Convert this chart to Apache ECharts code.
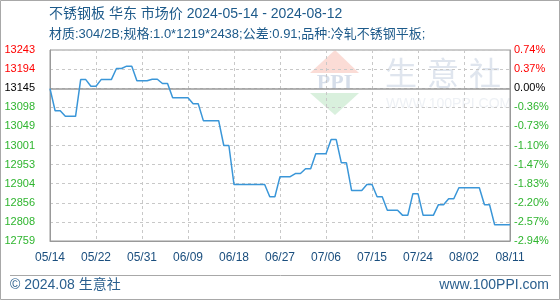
<!DOCTYPE html>
<html><head><meta charset="utf-8">
<script src="https://cdn.jsdelivr.net/npm/echarts@6/dist/echarts.min.js"></script>
<style>html,body{margin:0;padding:0;background:#fff}#c{width:560px;height:300px}</style>
</head><body><div id="c"></div>
<script>
const titleText = '不锈钢板 华东 市场价 2024-05-14 - 2024-08-12';
const subText = '材质:304/2B;规格:1.0*1219*2438;公差:0.91;品种:冷轧不锈钢平板;';
const footerLeft = '© 2024.08 生意社';
const footerRight = 'www.100PPI.com';
const startDate = '2024-05-14';
const prices = [
  13145, 13089, 13089, 13075, 13075, 13075, 13168, 13168, 13151, 13151,
  13168, 13168, 13168, 13196, 13196, 13202, 13202, 13165, 13165, 13165,
  13169, 13169, 13158, 13158, 13122, 13122, 13122, 13122, 13107, 13107,
  13064, 13064, 13064, 13064, 13001, 13001, 12902, 12902, 12902, 12902,
  12902, 12902, 12902, 12871, 12871, 12922, 12922, 12922, 12930, 12930,
  12942, 12942, 12980, 12980, 12980, 13016, 13016, 12957, 12957, 12887,
  12887, 12887, 12902, 12902, 12871, 12871, 12837, 12837, 12837, 12824,
  12824, 12879, 12879, 12824, 12824, 12824, 12851, 12851, 12866, 12866,
  12894, 12894, 12894, 12894, 12894, 12851, 12851, 12800, 12800, 12800,
  12800
];
const xTickLabels = ['05/14','05/22','05/31','06/09','06/18','06/27','07/06','07/15','07/24','08/02','08/11'];
// bottom to top
const yTickLabels = ['12759','12808','12856','12904','12953','13001','13049','13098','13145','13194','13243'];
const pctTickLabels = ['-2.94%','-2.57%','-2.20%','-1.83%','-1.47%','-1.10%','-0.73%','-0.36%','0.00%','0.37%','0.74%'];
const baseValue = 13145;
const yMin = 12759, yMax = 13243;
const watermarkChars = ['生','意','社'];

const dates = [];
(function(){
  const d0 = new Date(startDate + 'T00:00:00Z');
  for (let i = 0; i < prices.length; i++) {
    const d = new Date(d0.getTime() + i * 86400000);
    dates.push(d.toISOString().slice(0, 10));
  }
})();

const yInterval = (yMax - yMin) / 10;
const baseIdx = 8;
function tickIdx(v){ return Math.round((Number(v) - yMin) / yInterval); }
function tickColor(v){
  const i = tickIdx(v);
  if (i > baseIdx) return '#ff0000';
  if (i === baseIdx) return '#000000';
  return '#2fb52f';
}
const FONT = '"Liberation Sans", "Noto Sans CJK SC", sans-serif';

const graphics = [
  {type:'rect', z:-10, shape:{x:0.5,y:0.5,width:559,height:299}, style:{fill:'none', stroke:'#a8a8a8', lineWidth:1}},
  {type:'line', z:-10, shape:{x1:10,y1:275.5,x2:551,y2:275.5}, style:{stroke:'#a8a8a8', lineWidth:1}},
  {type:'polygon', z:-10, shape:{points:[[335,50],[310,73],[359,73]]}, style:{fill:'#fbdcd6'}},
  {type:'text', z:-10, x:334.5, y:83, style:{text:'PPI', font:'bold 22px "Liberation Serif", serif', fill:'#d6deea', align:'center', verticalAlign:'middle'}},
  {type:'polygon', z:-10, shape:{points:[[310,93],[359,93],[335,115]]}, style:{fill:'#d9f0dd'}},
  {type:'text', z:-10, x:386, y:104, style:{text:'WWW.100PPI.COM', font:'14px "Liberation Sans", sans-serif', fill:'#eef1f5', align:'left', verticalAlign:'middle'}}
];
watermarkChars.forEach(function(ch, k){
  graphics.push({type:'text', z:-10, x:385 + k * 42, y:73,
    style:{text: ch, font:'32px "Noto Sans CJK SC", sans-serif', fill:'#dfe5ee', align:'left', verticalAlign:'middle'}});
});

const chart = echarts.init(document.getElementById('c'), null, {renderer:'canvas'});
chart.setOption({
  animation: false,
  backgroundColor: '#ffffff',
  textStyle: {fontFamily: FONT},
  title: [
    {text: titleText, left: 49, top: 7, padding: 0,
     textStyle: {fontSize: 14, fontWeight: 'normal', color: '#1d5a8a', fontFamily: FONT}},
    {text: subText, left: 49, top: 28, padding: 0,
     textStyle: {fontSize: 13, fontWeight: 'normal', color: '#1d5a8a', fontFamily: FONT}},
    {text: footerLeft, left: 10, top: 278, padding: 0,
     textStyle: {fontSize: 14, fontWeight: 'normal', color: '#2a5f8e', fontFamily: FONT}},
    {text: footerRight, right: 11, top: 278, padding: 0,
     textStyle: {fontSize: 14, fontWeight: 'normal', color: '#2a5f8e', fontFamily: FONT}}
  ],
  graphic: graphics,
  grid: {left: 50, right: 50, top: 50, bottom: 59, show: true, borderColor: '#999', borderWidth: 1,
         backgroundColor: 'transparent', outerBoundsMode: 'none', containLabel: false},
  xAxis: {
    type: 'category', data: dates, boundaryGap: false,
    axisLine: {show: true, lineStyle: {color: '#999', width: 1}},
    axisTick: {show: false},
    axisLabel: {interval: 8, margin: 11, fontSize: 12, color: '#1a4e7e', fontFamily: FONT,
      formatter: function(v, i){ return (i % 9 === 0) ? (xTickLabels[i / 9] || '') : ''; }},
    splitLine: {show: true, interval: 8, lineStyle: {color: '#c8c8c8', type: [3, 3], width: 1}}
  },
  yAxis: [
    {type: 'value', position: 'left', min: yMin, max: yMax, interval: yInterval,
     axisLine: {show: true, lineStyle: {color: '#999', width: 1}},
     axisTick: {show: false},
     axisLabel: {margin: 15, fontSize: 11, fontFamily: FONT,
       formatter: function(v){ return yTickLabels[tickIdx(v)]; },
       color: function(v){ return tickColor(v); }},
     splitLine: {show: true, lineStyle: {color: '#c8c8c8', type: [3, 3], width: 1}}},
    {type: 'value', position: 'right', min: yMin, max: yMax, interval: yInterval,
     axisLine: {show: true, lineStyle: {color: '#999', width: 1}},
     axisTick: {show: false},
     axisLabel: {margin: 4, fontSize: 11, fontFamily: FONT,
       formatter: function(v){ return pctTickLabels[tickIdx(v)]; },
       color: function(v){ return tickColor(v); }},
     splitLine: {show: false}}
  ],
  series: [{
    type: 'line', data: prices, xAxisIndex: 0, yAxisIndex: 0,
    showSymbol: false, symbol: 'none',
    lineStyle: {color: '#3a96d8', width: 1.5},
    z: 5,
    markLine: {silent: true, symbol: 'none', label: {show: false},
      lineStyle: {color: '#9a9a9a', type: 'solid', width: 1.5},
      data: [{yAxis: baseValue}]}
  }]
});
</script>
</body></html>
